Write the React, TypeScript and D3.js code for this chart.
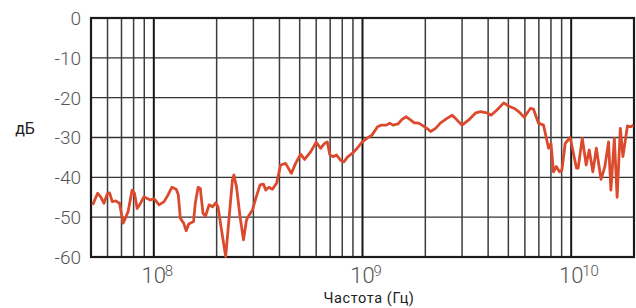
import React, { useEffect, useRef } from 'react'
import * as d3 from 'd3'

const freqHz = [
  5.09e7, 5.38e7, 5.56e7, 5.77e7, 5.98e7, 6.14e7, 6.32e7, 6.56e7, 6.85e7, 7.13e7,
  7.53e7, 7.87e7, 8.08e7, 8.32e7, 8.64e7, 8.96e7, 9.29e7, 9.64e7, 1.0e8, 1.06e8,
  1.12e8, 1.17e8, 1.22e8, 1.28e8, 1.31e8, 1.34e8, 1.39e8, 1.43e8, 1.47e8, 1.55e8,
  1.58e8, 1.63e8, 1.67e8, 1.72e8, 1.77e8, 1.84e8, 1.91e8, 1.98e8, 2.03e8, 2.11e8,
  2.21e8, 2.29e8, 2.38e8, 2.42e8, 2.49e8, 2.59e8, 2.69e8, 2.78e8, 2.86e8, 2.97e8,
  3.08e8, 3.23e8, 3.35e8, 3.44e8, 3.56e8, 3.7e8, 3.88e8, 4.05e8, 4.28e8, 4.56e8,
  4.78e8, 5.05e8, 5.28e8, 5.64e8, 6.0e8, 6.3e8, 6.58e8, 6.78e8, 6.98e8, 7.24e8,
  7.51e8, 7.85e8, 8.14e8, 8.51e8, 8.93e8, 9.43e8, 9.97e8, 1.05e9, 1.11e9, 1.18e9,
  1.23e9, 1.3e9, 1.35e9, 1.4e9, 1.48e9, 1.55e9, 1.62e9, 1.68e9, 1.77e9, 1.86e9,
  1.97e9, 2.08e9, 2.12e9, 2.24e9, 2.36e9, 2.54e9, 2.69e9, 2.79e9, 3.0e9, 3.23e9,
  3.47e9, 3.67e9, 3.95e9, 4.13e9, 4.41e9, 4.75e9, 5.01e9, 5.34e9, 5.6e9, 5.96e9,
  6.37e9, 6.6e9, 6.97e9, 7.37e9, 7.79e9, 8.0e9, 8.23e9, 8.48e9, 8.79e9, 9.03e9,
  9.36e9, 9.89e9, 1.06e10, 1.08e10, 1.13e10, 1.18e10, 1.22e10, 1.27e10, 1.32e10, 1.39e10,
  1.45e10, 1.51e10, 1.55e10, 1.61e10, 1.66e10, 1.72e10, 1.77e10, 1.86e10, 1.93e10, 1.99e10
]
const levelDb = [
  -46.9, -44.0, -44.9, -46.5, -44.2, -43.9, -46.1, -45.9, -46.5, -51.5,
  -48.6, -43.2, -44.0, -47.8, -46.5, -44.9, -45.3, -45.7, -45.3, -46.9,
  -46.1, -44.4, -42.5, -43.0, -44.4, -50.3, -51.5, -53.4, -51.7, -51.1,
  -46.5, -42.5, -42.8, -49.0, -49.7, -46.9, -47.4, -46.4, -47.4, -53.2,
  -59.9, -50.7, -40.7, -39.4, -42.4, -49.9, -55.7, -50.7, -49.5, -48.2,
  -45.3, -41.9, -41.7, -43.2, -42.5, -43.0, -41.4, -36.9, -36.5, -39.0,
  -36.5, -34.2, -35.5, -33.6, -31.2, -32.7, -31.5, -31.1, -34.4, -34.8,
  -34.4, -35.7, -36.1, -34.8, -34.0, -32.7, -31.1, -30.2, -29.4, -27.3,
  -26.9, -26.9, -26.4, -26.9, -26.6, -25.4, -24.8, -25.4, -26.3, -26.4,
  -27.2, -28.1, -28.5, -27.7, -26.4, -25.2, -24.4, -25.2, -26.9, -25.6,
  -23.9, -23.5, -23.8, -24.4, -23.1, -21.3, -22.1, -22.7, -23.5, -24.9,
  -22.7, -22.9, -26.4, -26.9, -32.7, -31.5, -38.6, -37.3, -38.6, -38.2,
  -31.5, -30.0, -37.7, -37.7, -30.2, -36.9, -33.1, -38.6, -32.7, -40.5,
  -37.3, -31.1, -43.2, -30.2, -45.0, -27.7, -34.8, -27.1, -27.3, -26.9
]
const freqDomain = [5e7, 2e10]
const dbDomain = [-60, 0]
const decadeExponents = [8, 9, 10]
const yLabel = 'дБ'
const xLabel = 'Частота (Гц)'

const W = 636
const H = 308
const margin = { left: 91, right: 2, top: 18, bottom: 51 }

export default function App() {
  const ref = useRef<SVGSVGElement | null>(null)

  useEffect(() => {
    const svg = d3.select(ref.current)
    svg.selectAll('*').remove()

    const x = d3
      .scaleLog()
      .domain(freqDomain)
      .range([margin.left, W - margin.right])
    const y = d3
      .scaleLinear()
      .domain(dbDomain)
      .range([H - margin.bottom, margin.top])

    const font = 'Roboto, "Noto Sans", sans-serif'
    const x0 = margin.left
    const x1 = W - margin.right
    const y0 = margin.top
    const y1 = H - margin.bottom

    // horizontal grid
    svg
      .append('g')
      .selectAll('line')
      .data(y.ticks(6).filter(d => d > dbDomain[0] && d < dbDomain[1]))
      .enter()
      .append('line')
      .attr('x1', x0)
      .attr('x2', x1)
      .attr('y1', d => y(d))
      .attr('y2', d => y(d))
      .attr('stroke', '#333')
      .attr('stroke-width', 1.4)

    // vertical grid, decades darker
    const isDecade = (d: number) => Math.abs(Math.log10(d) - Math.round(Math.log10(d))) < 1e-9
    svg
      .append('g')
      .selectAll('line')
      .data(x.ticks().filter(d => d > freqDomain[0] && d < freqDomain[1]))
      .enter()
      .append('line')
      .attr('x1', d => x(d))
      .attr('x2', d => x(d))
      .attr('y1', y0)
      .attr('y2', y1)
      .attr('stroke', d => (isDecade(d) ? '#151515' : '#3c3c3c'))
      .attr('stroke-width', d => (isDecade(d) ? 2 : 1.5))

    // frame
    svg
      .append('rect')
      .attr('x', x0)
      .attr('y', y0)
      .attr('width', x1 - x0)
      .attr('height', y1 - y0)
      .attr('fill', 'none')
      .attr('stroke', '#1a1a1a')
      .attr('stroke-width', 2.2)

    // response curve
    const line = d3
      .line<number>()
      .x((d, i) => x(freqHz[i]))
      .y(d => y(d))
    svg
      .append('path')
      .attr('d', line(levelDb))
      .attr('fill', 'none')
      .attr('stroke', '#dc4a2e')
      .attr('stroke-width', 2.8)
      .attr('stroke-linejoin', 'round')

    // y tick labels
    svg
      .append('g')
      .selectAll('text')
      .data(y.ticks(6))
      .enter()
      .append('text')
      .text(d => String(d))
      .attr('x', 81)
      .attr('y', d => y(d))
      .attr('dy', '0.36em')
      .attr('text-anchor', 'end')
      .attr('font-family', font)
      .attr('font-weight', 300)
      .attr('font-size', 19)
      .attr('fill', '#555')

    // x decade labels
    const xt = svg
      .append('g')
      .selectAll('g')
      .data(decadeExponents)
      .enter()
      .append('g')
    xt.append('text')
      .text('10')
      .attr('x', d => x(Math.pow(10, d)))
      .attr('y', 283)
      .attr('text-anchor', 'middle')
      .attr('font-family', font)
      .attr('font-weight', 300)
      .attr('font-size', 22)
      .attr('fill', '#555')
    xt.append('text')
      .text(d => String(d))
      .attr('x', d => x(Math.pow(10, d)) + 11)
      .attr('y', 276)
      .attr('text-anchor', 'start')
      .attr('font-family', font)
      .attr('font-weight', 300)
      .attr('font-size', 15)
      .attr('fill', '#555')

    svg
      .append('text')
      .text(yLabel)
      .attr('x', 25)
      .attr('y', 134)
      .attr('text-anchor', 'middle')
      .attr('font-family', font)
      .attr('font-size', 16)
      .attr('fill', '#222')

    svg
      .append('text')
      .text(xLabel)
      .attr('x', 369)
      .attr('y', 303)
      .attr('text-anchor', 'middle')
      .attr('font-family', font)
      .attr('font-size', 14.5)
      .attr('letter-spacing', 0.6)
      .attr('fill', '#222')
  }, [])

  return (
    <svg
      ref={ref}
      width={W}
      height={H}
      style={{ position: 'absolute', left: 0, top: 0, background: '#fff' }}
    />
  )
}
